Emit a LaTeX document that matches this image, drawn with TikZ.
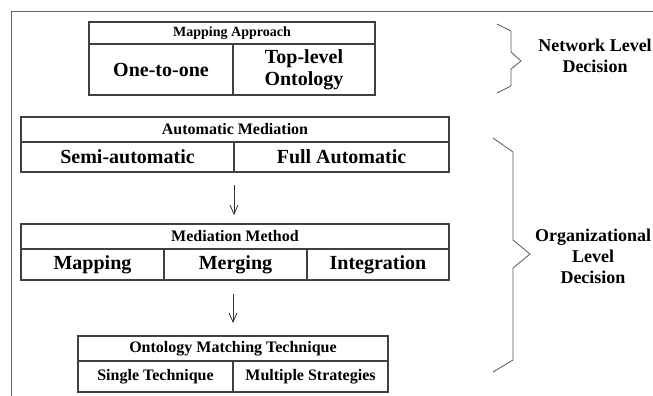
\documentclass[tikz,border=0pt]{standalone}
\usepackage{fontspec}
\setmainfont{Liberation Serif}
\usetikzlibrary{arrows.meta}
\begin{document}
\begin{tikzpicture}[x=1pt,y=-1pt,
 cell/.style={draw=black!75,line width=1.3pt,rectangle,inner sep=0pt,outer sep=0pt,
   anchor=north west,align=center,font=\fontsize{20}{22}\selectfont\bfseries},
 head/.style={cell,minimum height=25pt,font=\fontsize{16}{18}\selectfont\bfseries},
 side/.style={align=center,font=\fontsize{18}{21}\selectfont\bfseries},
 flow/.style={draw=black!80,line width=0.8pt,-{Straight Barb[length=9pt,width=8pt]}},
 brace/.style={draw=black!65,line width=0.8pt}]
\useasboundingbox (0,0) rectangle (653,396);
\draw [black!60,line width=1pt] (653,12) -- (11,12) -- (11,396);

% network level
\node [head,minimum width=286pt,minimum height=22pt,font=\fontsize{14}{16}\selectfont\bfseries]
 (mapHead) at (89,22) {Mapping Approach};
\node [cell,minimum width=144pt,minimum height=51pt] (oneToOne) at (mapHead.south west) {One-to-one};
\node [cell,minimum width=142pt,minimum height=51pt] (topLevel) at (oneToOne.north east) {Top-level\\Ontology};

% organizational level
\node [head,minimum width=428pt] (autoHead) at (21,117) {Automatic Mediation};
\node [cell,minimum width=213pt,minimum height=30pt] (semiAuto) at (autoHead.south west) {Semi-automatic};
\node [cell,minimum width=215pt,minimum height=30pt] (fullAuto) at (semiAuto.north east) {Full Automatic};

\node [head,minimum width=428pt] (medHead) at (21,224) {Mediation Method};
\node [cell,minimum width=143pt,minimum height=31pt] (mapCell) at (medHead.south west) {Mapping};
\node [cell,minimum width=143pt,minimum height=31pt] (mergeCell) at (mapCell.north east) {Merging};
\node [cell,minimum width=142pt,minimum height=31pt] (integCell) at (mergeCell.north east) {Integration};

\node [head,minimum width=310pt] (ontHead) at (78,336) {Ontology Matching Technique};
\node [cell,minimum width=155pt,minimum height=31pt,font=\fontsize{16}{18}\selectfont\bfseries]
 (singleTech) at (ontHead.south west) {Single Technique};
\node [cell,minimum width=155pt,minimum height=31pt,font=\fontsize{16}{18}\selectfont\bfseries]
 (multiStrat) at (singleTech.north east) {Multiple Strategies};

\draw [flow] ([yshift=-13pt]semiAuto.south east) -- ([yshift=9pt]semiAuto.south east |- medHead.north);
\draw [flow] ([yshift=-14pt]ontHead.north |- mergeCell.south) -- ([yshift=13pt]ontHead.north);

% braces
\draw [brace] (497,24) -- (511,31) -- (511,52) -- (521,61) -- (511,69) -- (511,86) -- (497,93);
\draw [brace] (493,138) -- (513,152) -- (513,240) -- (530,254) -- (513,268) -- (513,360) -- (493,372);
\node [side] (netLabel) at (595,56) {Network Level\\Decision};
\node [side] (orgLabel) at (593,256) {Organizational\\Level\\Decision};
\end{tikzpicture}
\end{document}
